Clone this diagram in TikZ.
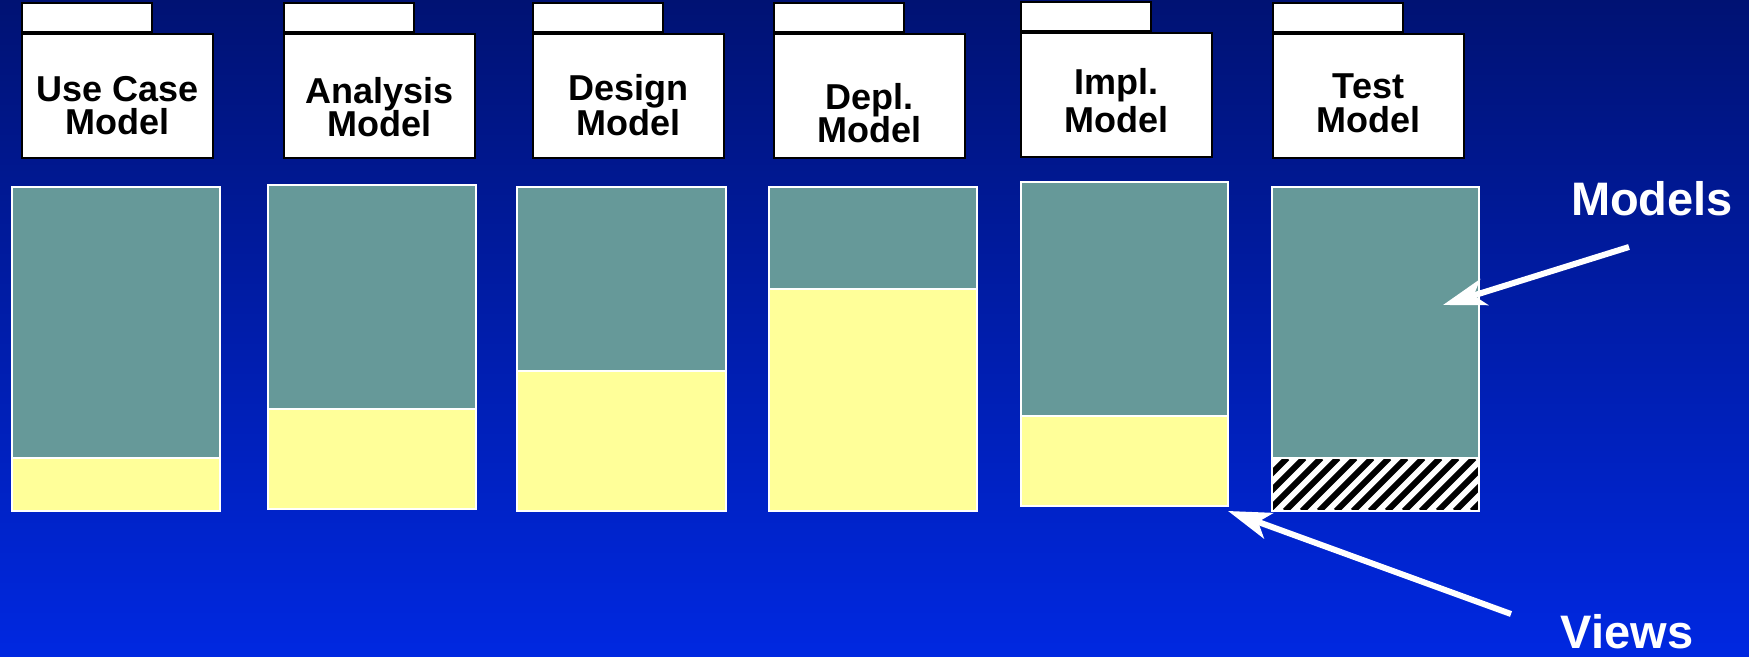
\documentclass[tikz,border=0pt]{standalone}
\usepackage{fontspec}
\setmainfont{Liberation Sans}
\usetikzlibrary{positioning,arrows.meta}
\definecolor{navytop}{RGB}{0,18,115}
\definecolor{bluebot}{RGB}{0,40,225}
\definecolor{mteal}{RGB}{102,153,153}
\definecolor{vyellow}{RGB}{255,255,153}
\tikzset{
  pk/.style={rectangle, draw=black, line width=1pt, fill=white, minimum width=95.5pt, minimum height=62pt, inner sep=0pt},
  tb/.style={rectangle, draw=black, line width=1pt, fill=white, minimum width=65pt, minimum height=14.5pt, inner sep=0pt},
  pkt/.style={align=center, font=\fontsize{18}{16.8}\selectfont\bfseries, inner sep=0pt},
  lb/.style={text=white, font=\fontsize{23.5}{24}\selectfont\bfseries, inner sep=0pt},
  mp/.style={draw=white, line width=1pt, fill=mteal},
  vp/.style={draw=white, line width=1pt, fill=vyellow},
  ar/.style={draw=white, line width=3pt, -{Stealth[length=21.5pt,width=13.5pt,inset=5.5pt]}}
}

\begin{document}
\begin{tikzpicture}[x=0.5pt,y=-0.5pt]
\useasboundingbox (0,0) rectangle (1749,657);
\fill[top color=navytop, bottom color=bluebot] (0,0) rectangle (1749,657);

\node[pk] (uc) at (117.5,96) {};
\node[tb, above right=0pt and 0pt of uc.north west] (uctab) {};
\node[pkt] at ([yshift=-4.75pt]uc.center) {Use Case\\Model};
\node[pk] (an) at (379.5,96) {};
\node[tb, above right=0pt and 0pt of an.north west] (antab) {};
\node[pkt] at ([yshift=-5.5pt]an.center) {Analysis\\Model};
\node[pk] (de) at (628.5,96) {};
\node[tb, above right=0pt and 0pt of de.north west] (detab) {};
\node[pkt] at ([yshift=-4.5pt]de.center) {Design\\Model};
\node[pk] (dp) at (869.5,96) {};
\node[tb, above right=0pt and 0pt of dp.north west] (dptab) {};
\node[pkt] at ([yshift=-8.5pt]dp.center) {Depl.\\Model};
\node[pk] (im) at (1116.5,95) {};
\node[tb, above right=0pt and 0pt of im.north west] (imtab) {};
\node[pkt, font=\fontsize{18}{19}\selectfont\bfseries] at ([yshift=-3pt]im.center) {Impl.\\Model};
\node[pk] (ts) at (1368.5,96.5) {};
\node[tb, above right=0pt and 0pt of ts.north west] (tstab) {};
\node[pkt] at ([yshift=-3.5pt]ts.center) {Test\\Model};

\draw[mp] (12,187) rectangle (220,458);
\draw[vp] (12,458) rectangle (220,511);
\draw[mp] (268,185) rectangle (476,409);
\draw[vp] (268,409) rectangle (476,509);
\draw[mp] (517,187) rectangle (726,371);
\draw[vp] (517,371) rectangle (726,511);
\draw[mp] (769,187) rectangle (977,289);
\draw[vp] (769,289) rectangle (977,511);
\draw[mp] (1021,182) rectangle (1228,416);
\draw[vp] (1021,416) rectangle (1228,506);
\draw[mp] (1272,187) rectangle (1479,458);
\begin{scope}
\clip (1272,458) rectangle (1479,511);
\fill[white] (1272,458) rectangle (1479,511);
\foreach \i in {1200,1217,...,1480}
  \draw[black, line width=3pt] (\i,511) -- ++(53,-53);
\end{scope}
\draw[white, line width=1pt] (1272,458) rectangle (1479,511);

\node[lb] (models) at (1652,198.5) {Models};
\node[lb] (views) at (1627,632) {Views};
\coordinate (mtail) at (1629,247);
\coordinate (mtip) at (1443,305);
\coordinate (vtail) at (1511,614);
\coordinate (vtip) at (1228,511);
\draw[ar] (mtail) -- (mtip);
\draw[ar] (vtail) -- (vtip);
\end{tikzpicture}
\end{document}
